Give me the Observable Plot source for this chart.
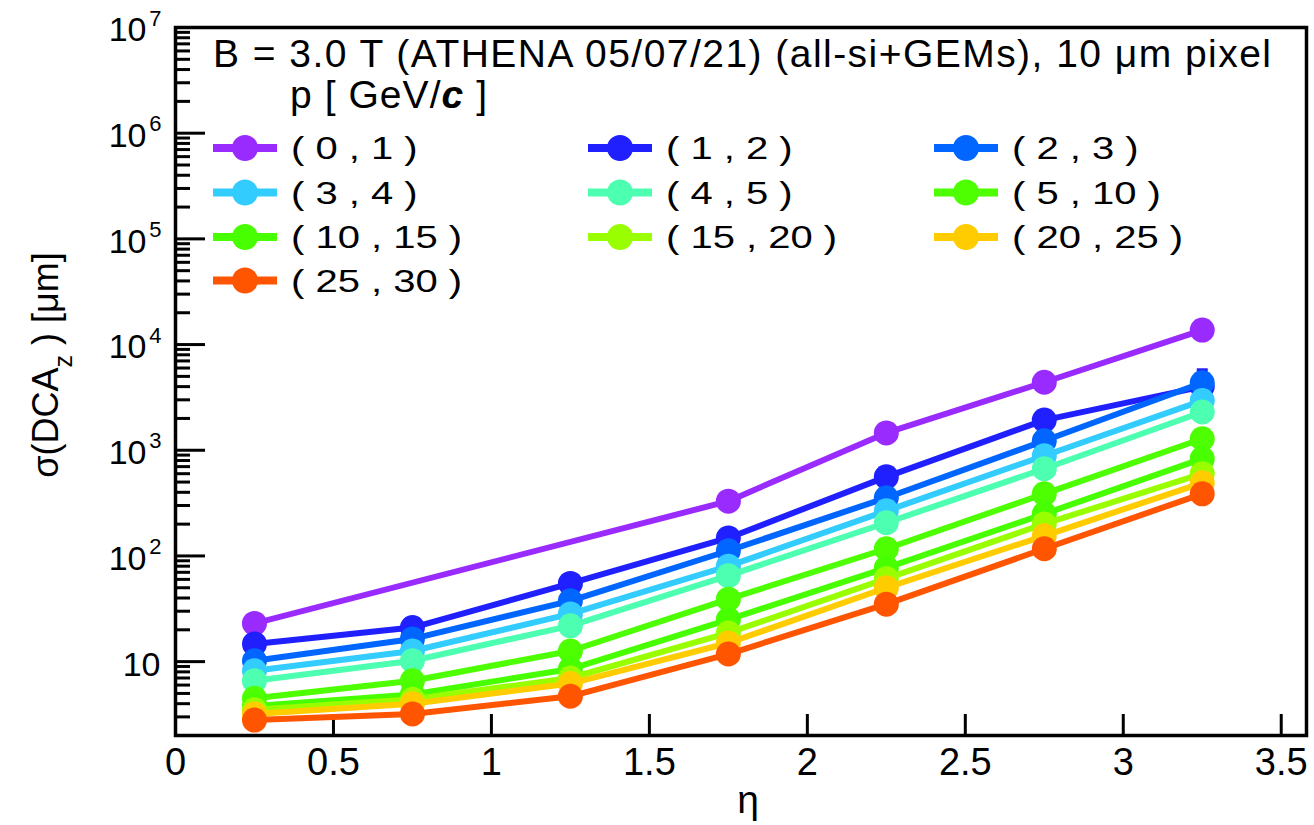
<!DOCTYPE html>
<html>
<head>
<meta charset="utf-8">
<script src="https://cdn.jsdelivr.net/npm/d3@7"></script>
<script src="https://cdn.jsdelivr.net/npm/@observablehq/plot@0.6"></script>
<style>
  html, body { margin: 0; padding: 0; background: #fff; }
  #wrap { position: relative; width: 1314px; height: 825px; font-family: "Liberation Sans", Arial, sans-serif; }
  #overlay { position: absolute; left: 0; top: 0; pointer-events: none; }
</style>
</head>
<body>
<div id="wrap">
  <div id="chart"></div>
  <svg id="overlay" width="1314" height="825"></svg>
</div>
<script>
// pseudorapidity bin centres
const eta = [0.25, 0.75, 1.25, 1.75, 2.25, 2.75, 3.25];

// momentum bins [GeV/c] and their colours
const momentumBins = ["( 0 , 1 )", "( 1 , 2 )", "( 2 , 3 )", "( 3 , 4 )", "( 4 , 5 )",
                      "( 5 , 10 )", "( 10 , 15 )", "( 15 , 20 )", "( 20 , 25 )", "( 25 , 30 )"];
const binColors = ["#9a2bff", "#2020ff", "#0066ff", "#33ccff", "#4dffb0",
                   "#4dff00", "#48ff00", "#99ff00", "#ffcc00", "#ff5500"];

// sigma(DCA_z) in um, one value per eta bin (null: no fit result)
const sigma_0_1   = [23,   null, null, 330,  1460, 4400, 13700];
const sigma_1_2   = [14.7, 21,   55,   148,  560,  1930, 4000];
const sigma_2_3   = [10.2, 16.4, 37.6, 112,  355,  1230, 4350];
const sigma_3_4   = [8.2,  12.6, 28.3, 80,   267,  887,  2950];
const sigma_4_5   = [6.6,  10.2, 21.8, 65,   206,  668,  2300];
const sigma_5_10  = [4.5,  6.6,  12.6, 39,   117,  387,  1285];
const sigma_10_15 = [3.8,  4.9,  8.5,  25,   77,   250,  832];
const sigma_15_20 = [3.5,  4.4,  7.0,  18.7, 61,   201,  600];
const sigma_20_25 = [3.2,  4.0,  6.2,  15,   50,   155,  492];
const sigma_25_30 = [2.8,  3.2,  4.7,  11.8, 35,   117,  387];

// fit uncertainty on the (1,2) bin
const sigmaErr_1_2 = [null, null, null, null, null, null, 1900];

// axis ticks
const xTicks = [0, 0.5, 1, 1.5, 2, 2.5, 3, 3.5];
const yMajor = [1e1, 1e2, 1e3, 1e4, 1e5, 1e6, 1e7];
const yMinor = d3.range(0, 7).flatMap(e => d3.range(2, 10).map(m => m * 10 ** e)).filter(v => v >= 2 && v < 1e7);

const seriesValues = [sigma_0_1, sigma_1_2, sigma_2_3, sigma_3_4, sigma_4_5,
                      sigma_5_10, sigma_10_15, sigma_15_20, sigma_20_25, sigma_25_30];

const series = seriesValues.map((vals, i) => ({
  bin: momentumBins[i],
  color: binColors[i],
  rows: eta.map((e, j) => ({eta: e, sigma: vals[j]})).filter(d => d.sigma != null)
}));

const errRows = eta.map((e, j) => ({eta: e, sigma: sigma_1_2[j], err: sigmaErr_1_2[j]}))
                   .filter(d => d.err != null && d.sigma != null);

const W = 1314, H = 825;
const mL = 175, mR = 8, mT = 27, mB = 90;
const innerW = W - mL - mR, innerH = H - mT - mB;

const marks = [
  // inward ticks on the left and bottom edges
  Plot.tickY(yMajor, {y: d => d, stroke: "black", strokeWidth: 3, insetRight: innerW - 30}),
  Plot.tickY(yMinor, {y: d => d, stroke: "black", strokeWidth: 3, insetRight: innerW - 15}),
  Plot.tickX(xTicks, {x: d => d, stroke: "black", strokeWidth: 3, insetTop: innerH - 21}),
  // tick labels
  Plot.text(xTicks, {x: d => d, text: d => String(d), frameAnchor: "bottom", dy: 27,
                     lineAnchor: "middle", fontSize: 38, fill: "black"}),
  Plot.text(yMajor.filter(v => v === 10), {y: d => d, text: () => "10", frameAnchor: "left",
                     textAnchor: "end", dx: -15, dy: 3, fontSize: 34, fill: "black"}),
  Plot.text(yMajor.filter(v => v > 10), {y: d => d, text: () => "10", frameAnchor: "left",
                     textAnchor: "end", dx: -29, dy: 3, fontSize: 34, fill: "black"}),
  Plot.text(yMajor.filter(v => v > 10), {y: d => d, text: d => String(Math.round(Math.log10(d))),
                     frameAnchor: "left", textAnchor: "end", dx: -14, dy: -9, fontSize: 22, fill: "black"}),
];

series.forEach((s, i) => {
  if (i === 1) {
    marks.push(Plot.ruleX(errRows, {x: "eta", y1: d => d.sigma - d.err, y2: d => d.sigma + d.err,
                                    stroke: s.color, strokeWidth: 11}));
  }
  marks.push(Plot.line(s.rows, {x: "eta", y: "sigma", stroke: s.color, strokeWidth: 6}));
  marks.push(Plot.dot(s.rows, {x: "eta", y: "sigma", r: 12.5, fill: s.color}));
});

marks.push(Plot.frame({stroke: "black", strokeWidth: 3.5}));

const chart = Plot.plot({
  width: W, height: H,
  marginLeft: mL, marginRight: mR, marginTop: mT, marginBottom: mB,
  x: {domain: [0, 3.58], axis: null},
  y: {type: "log", domain: [2, 1e7], axis: null},
  style: {fontFamily: "Liberation Sans, Arial, sans-serif", background: "white", overflow: "visible"},
  marks
});
document.getElementById("chart").append(chart);

// titles and legend drawn on top of the plot
const ov = d3.select("#overlay");
const font = "Liberation Sans, Arial, sans-serif";

// x-axis title
ov.append("text").attr("x", 748).attr("y", 813).attr("text-anchor", "middle")
  .attr("font-family", font).attr("font-size", 39).text("η");

// y-axis title, rotated
const yt = ov.append("text").attr("transform", "translate(58,365) rotate(-90)")
  .attr("text-anchor", "middle").attr("font-family", font).attr("font-size", 36);
yt.append("tspan").text("σ(DCA");
yt.append("tspan").attr("baseline-shift", "sub").attr("font-size", 25).text("z");
yt.append("tspan").text(" ) [μm]");

// legend header
ov.append("text").attr("x", 213).attr("y", 67).attr("font-family", font).attr("font-size", 39)
  .attr("textLength", 1058).attr("lengthAdjust", "spacing")
  .text("B = 3.0 T (ATHENA 05/07/21) (all-si+GEMs), 10 μm pixel");
const pt = ov.append("text").attr("x", 290).attr("y", 108).attr("font-family", font).attr("font-size", 39)
  .attr("textLength", 197).attr("lengthAdjust", "spacing");
pt.append("tspan").text("p [ GeV/");
pt.append("tspan").attr("font-weight", "bold").attr("font-style", "italic").text("c");
pt.append("tspan").text(" ]");

// legend entries, three columns
const colX = [213, 588, 934];
const rowY = [148, 192.5, 237, 280.5];
series.forEach((s, i) => {
  const x = colX[i % 3], y = rowY[Math.floor(i / 3)];
  const g = ov.append("g");
  g.append("line").attr("x1", x).attr("x2", x + 64).attr("y1", y).attr("y2", y)
    .attr("stroke", s.color).attr("stroke-width", 8);
  g.append("circle").attr("cx", x + 32).attr("cy", y).attr("r", 13).attr("fill", s.color);
  g.append("text").attr("transform", `translate(${x + 78},${y + 11}) scale(1.25,1)`)
    .attr("font-family", font).attr("font-size", 32).text(s.bin);
});
</script>
</body>
</html>
